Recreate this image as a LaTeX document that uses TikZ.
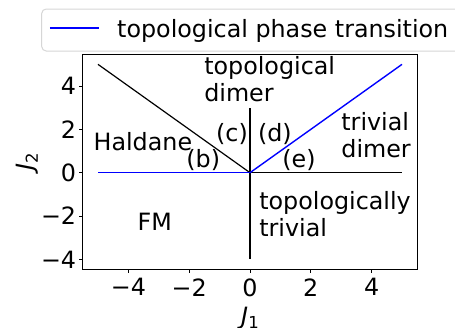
\documentclass[tikz,border=0pt]{standalone}
\usepackage{fontspec}
\setmainfont{DejaVu Sans}[ItalicFont={DejaVu Sans Oblique}]
\usetikzlibrary{positioning}
\definecolor{transition}{RGB}{0,0,255}
\definecolor{frameedge}{HTML}{D6D6D6}
\newcommand{\coupling}[1]{\textit{J}\raisebox{-0.2em}{\fontsize{16.5}{16.5}\selectfont #1}}
\tikzset{
  boundary/.style={draw=black, line width=1.2pt},
  transline/.style={draw=transition, line width=1.4pt},
  spineline/.style={draw=black, line width=0.8pt},
  regionlabel/.style={inner sep=0pt, anchor=base west, align=left,
    font=\fontsize{23.8}{26.7}\selectfont},
  ticklabel/.style={inner sep=0pt, font=\fontsize{23.8}{26.7}\selectfont}
}
\begin{document}
\begin{tikzpicture}[x=30.4pt,y=21.67pt]
  \useasboundingbox (-8.2237,-7.1204) rectangle (6.7434,7.9695);
  % legend, running off the right edge
  \begin{scope}
    \clip (-8.2237,-7.1204) rectangle (6.7434,7.9695);
    \draw[frameedge, fill=white, line width=1pt, rounded corners=4.5pt] (-6.852,5.616) rectangle (7.237,7.554);
  \end{scope}
  \coordinate (legA) at (-6.579,6.677);
  \coordinate (legB) at (-4.957,6.677);
  \draw[transline] (legA) -- (legB);
  \node[regionlabel] (legtext) at (-4.375,6.262) {topological phase transition};
  % phase boundaries
  \coordinate (O) at (0,0);
  \draw[boundary] (O) -- (-5,5);
  \draw[boundary] (O) -- (0,3);
  \draw[boundary] (O) -- (0,-4);
  \draw[boundary] (O) -- (5,0);
  \draw[transline] (O) -- (-5,0);
  \draw[transline] (O) -- (5,5);
  % axes and ticks
  \draw[spineline] (-5.5,-4.45) rectangle (5.5,5.45);
  \foreach \t/\lab in {-4/−4,-2/−2,0/0,2/2,4/4} {
    \draw[spineline] (\t,-4.45) -- ++(0,-3.5pt);
    \draw[spineline] (-5.5,\t) -- ++(-3.5pt,0);
    \node[ticklabel, anchor=north, yshift=-9.2pt] (xt\t) at (\t,-4.45) {\lab};
    \node[ticklabel, anchor=east, xshift=-6.5pt] (yt\t) at (-5.5,\t) {\lab};
  }
  \node[ticklabel, anchor=north] (xlab) at (0,-6.174) {\coupling{1}};
  \node[ticklabel, anchor=north, rotate=90] (ylab) at (-7.714,0.5) {\coupling{2}};
  % phase regions (base = last line)
  \node[regionlabel] (topdimer) at (-1.51,3.28) {topological\\dimer};
  \node[regionlabel] (haldane) at (-5.15,1.02) {Haldane};
  \node[regionlabel] (pb) at (-2.1,0.26) {(b)};
  \node[regionlabel] (pc) at (-1.12,1.44) {(c)};
  \node[regionlabel] (pd) at (0.26,1.44) {(d)};
  \node[regionlabel] (pe) at (1.06,0.26) {(e)};
  \node[regionlabel] (trivdimer) at (3.0,0.71) {trivial\\dimer};
  \node[regionlabel] (toptriv) at (0.3,-2.95) {topologically\\trivial};
  \node[regionlabel] (fm) at (-3.7,-2.68) {FM};
\end{tikzpicture}
\end{document}
